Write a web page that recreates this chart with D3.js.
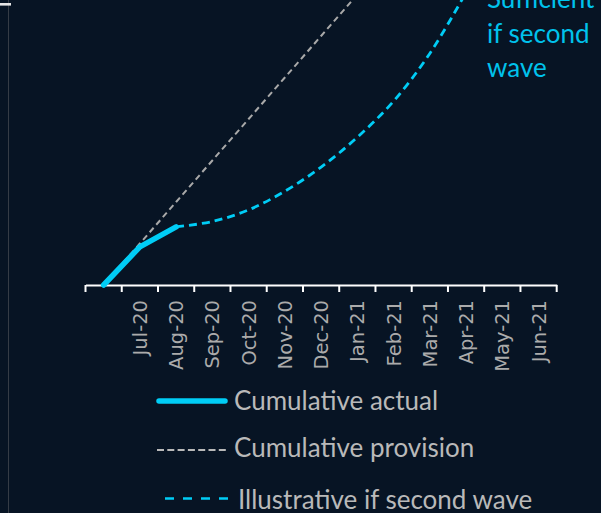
<!DOCTYPE html>
<html>
<head>
<meta charset="utf-8">
<script src="https://cdn.jsdelivr.net/npm/d3@7"></script>
<style>
  html, body { margin: 0; padding: 0; background: #071424; }
  svg { display: block; }
</style>
</head>
<body>
<svg id="chart" width="601" height="513"></svg>
<script>
// Months on the x axis (the first slot is the unlabeled starting point)
const months = ["", "Jul-20", "Aug-20", "Sep-20", "Oct-20", "Nov-20", "Dec-20",
                "Jan-21", "Feb-21", "Mar-21", "Apr-21", "May-21", "Jun-21"];

// Cumulative actual spend (units of monthly provision)
const actual = [0, 0.92, 1.40];

// Cumulative provision: straight-line allocation
const provision = [0, 1, 2, 3, 4, 5, 6, 7, 8, 9, 10, 11, 12];

// Illustrative path if a second wave hits, starting from the latest actual
const secondWave = [null, null, 1.40, 1.53, 1.81, 2.26, 2.84, 3.56, 4.43, 5.58, 7.05];

const legendItems = ["Cumulative actual", "Cumulative provision", "Illustrative if second wave"];
const noteLines = ["Sufficient", "if second", "wave"];

const CYAN = "#00cdf6";
const CYAN_TEXT = "#00c2ec";
const GREY_LINE = "#a9a9a9";
const GREY_TEXT = "#b9b9b9";
const AXIS_TEXT = "#ababab";

const svg = d3.select("#chart");

// frame line and marker on the left edge
svg.append("line")
  .attr("x1", 8.5).attr("x2", 8.5).attr("y1", 0).attr("y2", 513)
  .attr("stroke", "#353c46").attr("stroke-width", 1);
svg.append("rect")
  .attr("x", 0).attr("y", 3).attr("width", 11).attr("height", 2.6)
  .attr("fill", "#e6e6e6");

const x = d3.scaleBand().domain(months).range([85.5, 556.7]).paddingInner(0).paddingOuter(0);
const cx = m => x(m) + x.bandwidth() / 2;
const y = d3.scaleLinear().domain([0, 12]).range([285, 285 - 12 * 41.5]);

// axis: labels centered on each month, ticks on the month boundaries
const axisG = svg.append("g").attr("transform", "translate(0,285)");
const axis = d3.axisBottom(x).tickSize(0).tickSizeOuter(0);
axisG.call(axis);
axisG.select(".domain").attr("stroke", "#ffffff").attr("stroke-width", 2);
axisG.selectAll(".tick text")
  .attr("fill", AXIS_TEXT)
  .attr("font-family", "DejaVu Sans")
  .attr("font-size", 19.5)
  .attr("text-anchor", "end")
  .attr("transform", "translate(0,15) rotate(-90)")
  .attr("x", 0).attr("y", 0).attr("dy", "0.36em");

const boundaries = months.map(m => x(m)).concat([x(months[months.length - 1]) + x.bandwidth()]);
axisG.selectAll("line.bound").data(boundaries).enter().append("line")
  .attr("class", "bound")
  .attr("x1", d => d).attr("x2", d => d)
  .attr("y1", 0).attr("y2", 7)
  .attr("stroke", "#ffffff").attr("stroke-width", 2);

// provision line
const lineStraight = d3.line().x((d, i) => cx(months[i])).y(d => y(d));
svg.append("path")
  .datum(provision)
  .attr("d", lineStraight)
  .attr("fill", "none")
  .attr("stroke", GREY_LINE)
  .attr("stroke-width", 2)
  .attr("stroke-dasharray", "6,4");

// second-wave illustration
const lineCurve = d3.line()
  .defined(d => d != null)
  .x((d, i) => cx(months[i])).y(d => y(d))
  .curve(d3.curveCatmullRom.alpha(0.5));
svg.append("path")
  .datum(secondWave)
  .attr("d", lineCurve)
  .attr("fill", "none")
  .attr("stroke", CYAN)
  .attr("stroke-width", 2.8)
  .attr("stroke-dasharray", "8,5");

// actual line
svg.append("path")
  .datum(actual)
  .attr("d", lineStraight)
  .attr("fill", "none")
  .attr("stroke", CYAN)
  .attr("stroke-width", 5.5)
  .attr("stroke-linecap", "round")
  .attr("stroke-linejoin", "round");

// note text on the right
const note = svg.append("text")
  .attr("x", 487).attr("y", 8)
  .attr("fill", CYAN_TEXT)
  .attr("font-family", "Lato")
  .attr("font-size", 26);
note.selectAll("tspan").data(noteLines).enter().append("tspan")
  .attr("x", 487)
  .attr("y", (d, i) => 8 + i * 34.5)
  .text(d => d);

// legend
const legend = svg.append("g");
legend.append("line")
  .attr("x1", 159).attr("x2", 225).attr("y1", 401).attr("y2", 401)
  .attr("stroke", CYAN).attr("stroke-width", 5.5).attr("stroke-linecap", "round");
legend.append("line")
  .attr("x1", 157).attr("x2", 228).attr("y1", 450).attr("y2", 450)
  .attr("stroke", GREY_TEXT).attr("stroke-width", 2).attr("stroke-dasharray", "7,3.3");
legend.append("line")
  .attr("x1", 165).attr("x2", 229).attr("y1", 498.5).attr("y2", 498.5)
  .attr("stroke", CYAN).attr("stroke-width", 2.6).attr("stroke-dasharray", "9,9");

const legendPos = [[234, 409.5], [234, 457], [238, 508.5]];
legend.selectAll("text.lg").data(legendItems).enter().append("text")
  .attr("class", "lg")
  .attr("x", (d, i) => legendPos[i][0])
  .attr("y", (d, i) => legendPos[i][1])
  .attr("fill", GREY_TEXT)
  .attr("font-family", "Lato")
  .attr("font-size", 26)
  .text(d => d);
</script>
</body>
</html>
